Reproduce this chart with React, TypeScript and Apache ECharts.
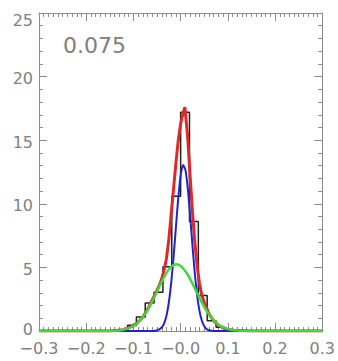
import React, { useEffect, useRef } from "react";
import * as echarts from "echarts";

const xTickLabels = ["−0.3", "−0.2", "−0.1", "−0.0", "0.1", "0.2", "0.3"];
const yTickLabels = ["0", "5", "10", "15", "20", "25"];
const panelLabel = "0.075";

const binEdges = [-0.1125, -0.09375, -0.075, -0.05625, -0.0375, -0.01875, 0, 0.01875, 0.0375, 0.05625, 0.075, 0.09375];
const histValues = [0.45, 1.1, 2.2, 3.05, 5.06, 10.6, 17.2, 8.6, 2.8, 0.8, 0.3];

const redX = [-0.3, -0.15, -0.12, -0.1, -0.09, -0.08, -0.07, -0.06, -0.05, -0.045, -0.04, -0.035, -0.03, -0.025, -0.02, -0.015, -0.01, -0.005, 0, 0.005, 0.009, 0.015, 0.02, 0.025, 0.03, 0.035, 0.04, 0.045, 0.05, 0.06, 0.07, 0.08, 0.09, 0.1, 0.12, 0.15, 0.3];
const redY = [0, 0, 0.1, 0.4, 0.7, 1.1, 1.7, 2.45, 3.2, 3.6, 4.1, 4.8, 5.7, 7.2, 9.2, 11.2, 13.2, 15.0, 16.3, 17.1, 17.6, 15.2, 12.2, 9.4, 7.0, 5.1, 3.7, 2.8, 2.25, 1.35, 0.8, 0.45, 0.25, 0.12, 0.03, 0, 0];

const blueX = [-0.3, -0.06, -0.05, -0.04, -0.035, -0.03, -0.025, -0.02, -0.015, -0.01, -0.005, 0, 0.005, 0.01, 0.015, 0.02, 0.025, 0.03, 0.035, 0.04, 0.045, 0.05, 0.055, 0.06, 0.07, 0.3];
const blueY = [0, 0, 0.04, 0.27, 0.6, 1.21, 2.24, 3.78, 5.81, 8.17, 10.47, 12.23, 13.05, 12.69, 11.27, 9.12, 6.73, 4.54, 2.79, 1.56, 0.8, 0.37, 0.16, 0.06, 0, 0];

const greenX = [-0.3, -0.15, -0.13, -0.12, -0.11, -0.1, -0.09, -0.08, -0.07, -0.06, -0.05, -0.04, -0.03, -0.02, -0.01, 0, 0.01, 0.02, 0.03, 0.04, 0.05, 0.06, 0.07, 0.08, 0.09, 0.1, 0.11, 0.12, 0.14, 0.3];
const greenY = [0, 0, 0.03, 0.11, 0.22, 0.39, 0.68, 1.09, 1.64, 2.33, 3.1, 3.89, 4.57, 5.06, 5.25, 5.12, 4.69, 4.1, 3.35, 2.6, 1.9, 1.3, 0.85, 0.5, 0.28, 0.15, 0.07, 0.03, 0, 0];

const AXIS_COLOR = "#8c8c8c";
const LABEL_COLOR = "#808080";
const FONT = "DejaVu Sans";

function zip(xs: number[], ys: number[]) {
  return xs.map((x, i) => [x, ys[i]]);
}

function histSteps(edges: number[], vals: number[]) {
  const pts: number[][] = [[edges[0], 0]];
  vals.forEach((v, i) => {
    pts.push([edges[i], v]);
    pts.push([edges[i + 1], v]);
  });
  pts.push([edges[edges.length - 1], 0]);
  return pts;
}

export default function App() {
  const ref = useRef<HTMLDivElement>(null);
  useEffect(() => {
    if (!ref.current) return;
    const chart = echarts.init(ref.current, undefined, { renderer: "svg" });
    const axisCommon = (show: boolean) => ({
      axisLine: { show: true, onZero: false, lineStyle: { color: AXIS_COLOR, width: 1 } },
      axisTick: { show: true, inside: true, length: 8, lineStyle: { color: AXIS_COLOR } },
      splitLine: { show: false },
    });
    const xBase = {
      type: "value" as const,
      min: -0.3,
      max: 0.3,
      interval: 0.1,
      minorTick: { show: true, splitNumber: 10, length: 4, lineStyle: { color: AXIS_COLOR } },
    };
    const yBase = {
      type: "value" as const,
      min: 0,
      max: 25,
      interval: 5,
      minorTick: { show: true, splitNumber: 5, length: 4, lineStyle: { color: AXIS_COLOR } },
    };
    chart.setOption({
      animation: false,
      grid: { left: 39, right: 15, top: 13, bottom: 30, containLabel: false },
      xAxis: [
        {
          ...xBase,
          ...axisCommon(true),
          position: "bottom",
          axisLabel: {
            show: true,
            margin: 9,
            color: LABEL_COLOR,
            fontFamily: FONT,
            fontSize: 16,
            formatter: (v: number) => xTickLabels[Math.round((v + 0.3) / 0.1)] ?? "",
          },
        },
        {
          ...xBase,
          ...axisCommon(false),
          position: "top",
          axisLabel: { show: false },
        },
      ],
      yAxis: [
        {
          ...yBase,
          ...axisCommon(true),
          position: "left",
          axisLabel: {
            show: true,
            margin: 6,
            color: LABEL_COLOR,
            fontFamily: FONT,
            fontSize: 16,
            formatter: (v: number) => {
              const t = yTickLabels[Math.round(v / 5)] ?? "";
              if (v >= 25) return "{t|" + t + "}";
              if (v <= 0) return "{z|" + t + "}";
              return "{n|" + t + "}";
            },
            rich: {
              t: { color: LABEL_COLOR, fontFamily: FONT, fontSize: 16, padding: [14, 0, 0, 0] },
              n: { color: LABEL_COLOR, fontFamily: FONT, fontSize: 16, padding: [4, 0, 0, 0] },
              z: { color: LABEL_COLOR, fontFamily: FONT, fontSize: 16, padding: [0, 0, 3, 0] },
            },
          },
        },
        {
          ...yBase,
          ...axisCommon(false),
          position: "right",
          axisLabel: { show: false },
        },
      ],
      graphic: [
        {
          type: "text",
          left: 63,
          top: 34,
          style: {
            text: panelLabel,
            fill: LABEL_COLOR,
            font: `22px "${FONT}"`,
          },
        },
      ],
      series: [
        {
          type: "line",
          data: histSteps(binEdges, histValues),
          showSymbol: false,
          lineStyle: { color: "#222222", width: 1.5 },
          itemStyle: { color: "#222222" },
          z: 2,
        },
        {
          type: "line",
          data: zip(redX, redY),
          showSymbol: false,
          lineStyle: { color: "#dc2a2a", width: 3 },
          itemStyle: { color: "#dc2a2a" },
          z: 3,
        },
        {
          type: "line",
          data: zip(blueX, blueY),
          showSymbol: false,
          smooth: 0.2,
          lineStyle: { color: "#2424c4", width: 2 },
          itemStyle: { color: "#2424c4" },
          z: 4,
        },
        {
          type: "line",
          data: zip(greenX, greenY),
          showSymbol: false,
          smooth: 0.2,
          lineStyle: { color: "#3cd83c", width: 2.5 },
          itemStyle: { color: "#3cd83c" },
          z: 5,
        },
      ],
    });
    return () => chart.dispose();
  }, []);
  return (
    <div
      ref={ref}
      style={{ position: "fixed", left: 0, top: 0, width: 338, height: 361, background: "#fff" }}
    />
  );
}
